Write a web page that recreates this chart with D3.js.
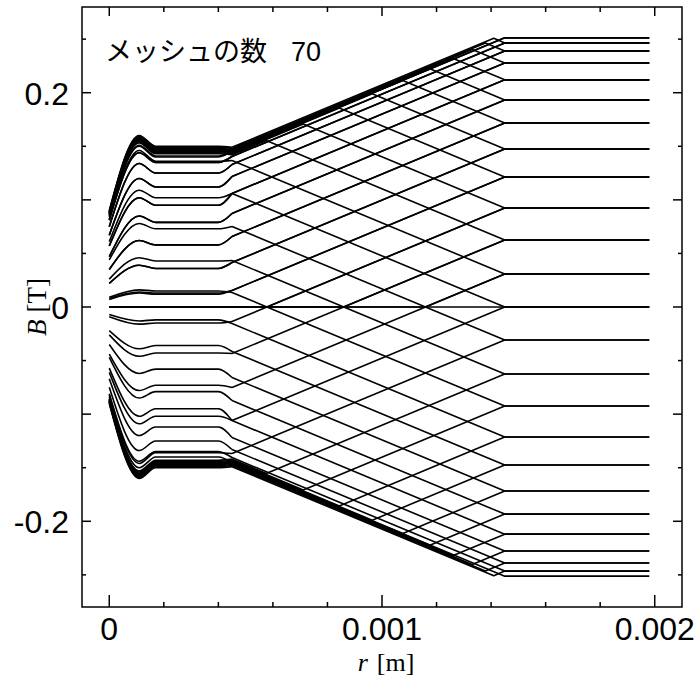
<!DOCTYPE html>
<html>
<head>
<meta charset="utf-8">
<script src="https://cdn.jsdelivr.net/npm/d3@7"></script>
<style>
  body { margin: 0; background: #fff; }
</style>
</head>
<body>
<div id="chart"></div>
<script>
// 61 curves: first rise from zero (13), falling branch (24), rising branch (24)
// left region sample positions (m)
var rLeft = [0, 0.00011, 0.00017, 0.0004, 0.00045];
var rOuter = 0.00145, rEnd = 0.00198;

// B [T] at r = 0
var bStart = [0, 0, 0, 0, 0.008, 0.022, 0.035, 0.047, 0.057, 0.067, 0.075, 0.081, 0.085,
  0.090, 0.089, 0.089, 0.088, 0.088, 0.088, 0.087, 0.087, 0.086, 0.086, 0.082, 0.061, 0.044, 0.026, 0.009, -0.007,
  -0.022, -0.035, -0.047, -0.057, -0.067, -0.075, -0.081, -0.084,
  -0.090, -0.089, -0.089, -0.088, -0.088, -0.088, -0.087, -0.087, -0.086, -0.086, -0.082, -0.061, -0.044, -0.026, -0.009, 0.007,
  0.022, 0.035, 0.047, 0.057, 0.067, 0.075, 0.081, 0.084];
// B at the bump, r = 0.00011
var bBump = [0, 0, 0, 0, 0.014, 0.039, 0.062, 0.085, 0.102, 0.120, 0.134, 0.144, 0.151,
  0.160, 0.159, 0.158, 0.157, 0.157, 0.156, 0.156, 0.155, 0.154, 0.153, 0.146, 0.109, 0.078, 0.046, 0.016, -0.013,
  -0.039, -0.062, -0.085, -0.102, -0.120, -0.134, -0.144, -0.150,
  -0.160, -0.159, -0.158, -0.157, -0.157, -0.156, -0.156, -0.155, -0.154, -0.153, -0.146, -0.109, -0.078, -0.046, -0.016, 0.013,
  0.039, 0.062, 0.085, 0.102, 0.120, 0.134, 0.144, 0.150];
// flat part of the inner region
var bPlateau = [0, 0, 0, 0, 0.013, 0.036, 0.058, 0.079, 0.095, 0.112, 0.125, 0.135, 0.141,
  0.150, 0.149, 0.148, 0.147, 0.1465, 0.146, 0.1455, 0.145, 0.144, 0.143, 0.136, 0.102, 0.073, 0.043, 0.015, -0.012,
  -0.036, -0.058, -0.079, -0.095, -0.112, -0.125, -0.135, -0.140,
  -0.150, -0.149, -0.148, -0.147, -0.1465, -0.146, -0.1455, -0.145, -0.144, -0.143, -0.136, -0.102, -0.073, -0.043, -0.015, 0.012,
  0.036, 0.058, 0.079, 0.095, 0.112, 0.125, 0.135, 0.140];
// B at r = 0.00045
var bEdge = [0, 0, 0, 0, 0.0154, 0.0415, 0.0658, 0.0873, 0.1060, 0.1218, 0.1330, 0.1405, 0.1452,
  0.149, 0.148, 0.147, 0.146, 0.1455, 0.145, 0.1445, 0.144, 0.143, 0.142, 0.1368, 0.1060, 0.0752, 0.0434, 0.0136, -0.0154,
  -0.0415, -0.0658, -0.0873, -0.1060, -0.1218, -0.1330, -0.1405, -0.1452,
  -0.149, -0.148, -0.147, -0.146, -0.1455, -0.145, -0.1445, -0.144, -0.143, -0.142, -0.1368, -0.1060, -0.0752, -0.0434, -0.0136, 0.0154,
  0.0415, 0.0658, 0.0873, 0.1060, 0.1218, 0.1330, 0.1405, 0.1452];
// corner inside the middle layer (null = straight)
var kinkR = [null, 0.001159, 0.000859, 0.000578, null, null, null, null, null, null, null, null, null,
  0.00141, 0.001379, 0.001331, 0.001261, 0.0011755, 0.0010764, 0.0009642, 0.0008434, 0.0007113, 0.0005755,
  null, null, null, null, null, null, null, null, null, null, null, null, null, null,
  0.00141, 0.001379, 0.001331, 0.001261, 0.0011755, 0.0010764, 0.0009642, 0.0008434, 0.0007113, 0.0005755,
  null, null, null, null, null, null, null, null, null, null, null, null, null, null];
var kinkB = [null, 0, 0, 0, null, null, null, null, null, null, null, null, null,
  0.2508, 0.2465, 0.2404, 0.2320, 0.2224, 0.2114, 0.1990, 0.1857, 0.1707, 0.1553,
  null, null, null, null, null, null, null, null, null, null, null, null, null, null,
  -0.2508, -0.2465, -0.2404, -0.2320, -0.2224, -0.2114, -0.1990, -0.1857, -0.1707, -0.1553,
  null, null, null, null, null, null, null, null, null, null, null, null, null, null];
// flat outer value, r >= 0.00145
var bOuter = [0, 0.0308, 0.0626, 0.0924, 0.1214, 0.1475, 0.1718, 0.1933, 0.2120, 0.2278, 0.2390, 0.2465, 0.2512,
  0.2465, 0.2390, 0.2278, 0.2120, 0.1933, 0.1718, 0.1475, 0.1214, 0.0924, 0.0626, 0.0308, 0, -0.0308, -0.0626,
  -0.0924, -0.1214, -0.1475, -0.1718, -0.1933, -0.2120, -0.2278, -0.2390, -0.2465, -0.2512,
  -0.2465, -0.2390, -0.2278, -0.2120, -0.1933, -0.1718, -0.1475, -0.1214, -0.0924, -0.0626, -0.0308, 0, 0.0308, 0.0626,
  0.0924, 0.1214, 0.1475, 0.1718, 0.1933, 0.2120, 0.2278, 0.2390, 0.2465, 0.2512];

var xTickLabels = ["0", "0.001", "0.002"];
var yTickLabels = ["-0.2", "0", "0.2"];

var width = 698, height = 679;
var plotL = 82, plotR = 682, plotT = 7, plotB = 607;

var svg = d3.select("#chart").append("svg")
  .attr("width", width)
  .attr("height", height)
  .style("font-family", "'Liberation Sans', Arial, sans-serif");

var x = d3.scaleLinear().domain([-0.0001, 0.0021]).range([plotL, plotR]);
var y = d3.scaleLinear().domain([-0.28, 0.28]).range([plotB, plotT]);

// inner part (smooth) and outer part (straight pieces) of every curve
var inner = bOuter.map(function(d, i) {
  var vals = [bStart[i], bBump[i], bPlateau[i], bPlateau[i], bEdge[i]];
  return rLeft.map(function(r, j) { return [r, vals[j]]; });
});
var outer = bOuter.map(function(d, i) {
  var pts = [[rLeft[rLeft.length - 1], bEdge[i]]];
  if (kinkR[i] !== null) pts.push([kinkR[i], kinkB[i]]);
  pts.push([rOuter, d], [rEnd, d]);
  return pts;
});

var smooth = d3.line()
  .x(function(d) { return x(d[0]); })
  .y(function(d) { return y(d[1]); })
  .curve(d3.curveMonotoneX);
var straight = d3.line()
  .x(function(d) { return x(d[0]); })
  .y(function(d) { return y(d[1]); });

var lines = svg.append("g")
  .attr("fill", "none")
  .attr("stroke", "#000")
  .attr("stroke-width", 1.6)
  .attr("stroke-linejoin", "round");

lines.selectAll("path.in")
  .data(inner)
  .enter().append("path")
  .attr("class", "in")
  .attr("d", smooth);

lines.selectAll("path.out")
  .data(outer)
  .enter().append("path")
  .attr("class", "out")
  .attr("d", straight);

// ticks on all four sides
var xMinor = d3.range(0, 0.00201, 0.0002);
var yMinor = d3.range(-0.25, 0.2501, 0.05);
var axes = svg.append("g").attr("stroke", "#000").attr("stroke-width", 1.5);

xMinor.forEach(function(v) {
  var major = Math.abs(v * 1000 - Math.round(v * 1000)) < 1e-6;
  axes.append("line").attr("x1", x(v)).attr("x2", x(v)).attr("y1", plotB).attr("y2", plotB - (major ? 12 : 5));
  axes.append("line").attr("x1", x(v)).attr("x2", x(v)).attr("y1", plotT).attr("y2", plotT + (major ? 9 : 5));
});
yMinor.forEach(function(v) {
  var major = Math.abs(Math.round(v * 10) - v * 10) < 1e-6;
  var len = major ? 9 : 4;
  axes.append("line").attr("x1", plotL).attr("x2", plotL + len).attr("y1", y(v)).attr("y2", y(v));
  axes.append("line").attr("x1", plotR).attr("x2", plotR - len).attr("y1", y(v)).attr("y2", y(v));
});

svg.append("rect")
  .attr("x", plotL).attr("y", plotT)
  .attr("width", plotR - plotL).attr("height", plotB - plotT)
  .attr("fill", "none").attr("stroke", "#000").attr("stroke-width", 1.5);

// tick labels
svg.append("g").selectAll("text")
  .data(xTickLabels)
  .enter().append("text")
  .attr("x", function(d) { return x(+d); })
  .attr("y", 640)
  .attr("text-anchor", "middle")
  .attr("font-size", 32)
  .text(function(d) { return d; });

svg.append("g").selectAll("text")
  .data(yTickLabels)
  .enter().append("text")
  .attr("x", 69)
  .attr("y", function(d) { return y(+d) + 12; })
  .attr("text-anchor", "end")
  .attr("font-size", 32)
  .text(function(d) { return d; });

// axis titles
var xt = svg.append("text")
  .attr("x", 386).attr("y", 671)
  .attr("text-anchor", "middle")
  .attr("font-family", "'Liberation Serif', 'Times New Roman', serif")
  .attr("font-size", 26);
xt.append("tspan").attr("font-style", "italic").text("r");
xt.append("tspan").attr("dx", 9).text("[m]");

var yt = svg.append("text")
  .attr("transform", "translate(46," + y(0) + ") rotate(-90)")
  .attr("text-anchor", "middle")
  .attr("font-family", "'Liberation Serif', 'Times New Roman', serif")
  .attr("font-size", 27);
yt.append("tspan").attr("font-style", "italic").text("B");
yt.append("tspan").attr("dx", 7).text("[T]");

// annotation
var note = svg.append("text")
  .attr("x", 105).attr("y", 61)
  .attr("font-size", 27);
note.append("tspan").attr("font-family", "'Noto Sans CJK JP', sans-serif").text("メッシュの数");
note.append("tspan").attr("x", 291).text("70");
</script>
</body>
</html>
